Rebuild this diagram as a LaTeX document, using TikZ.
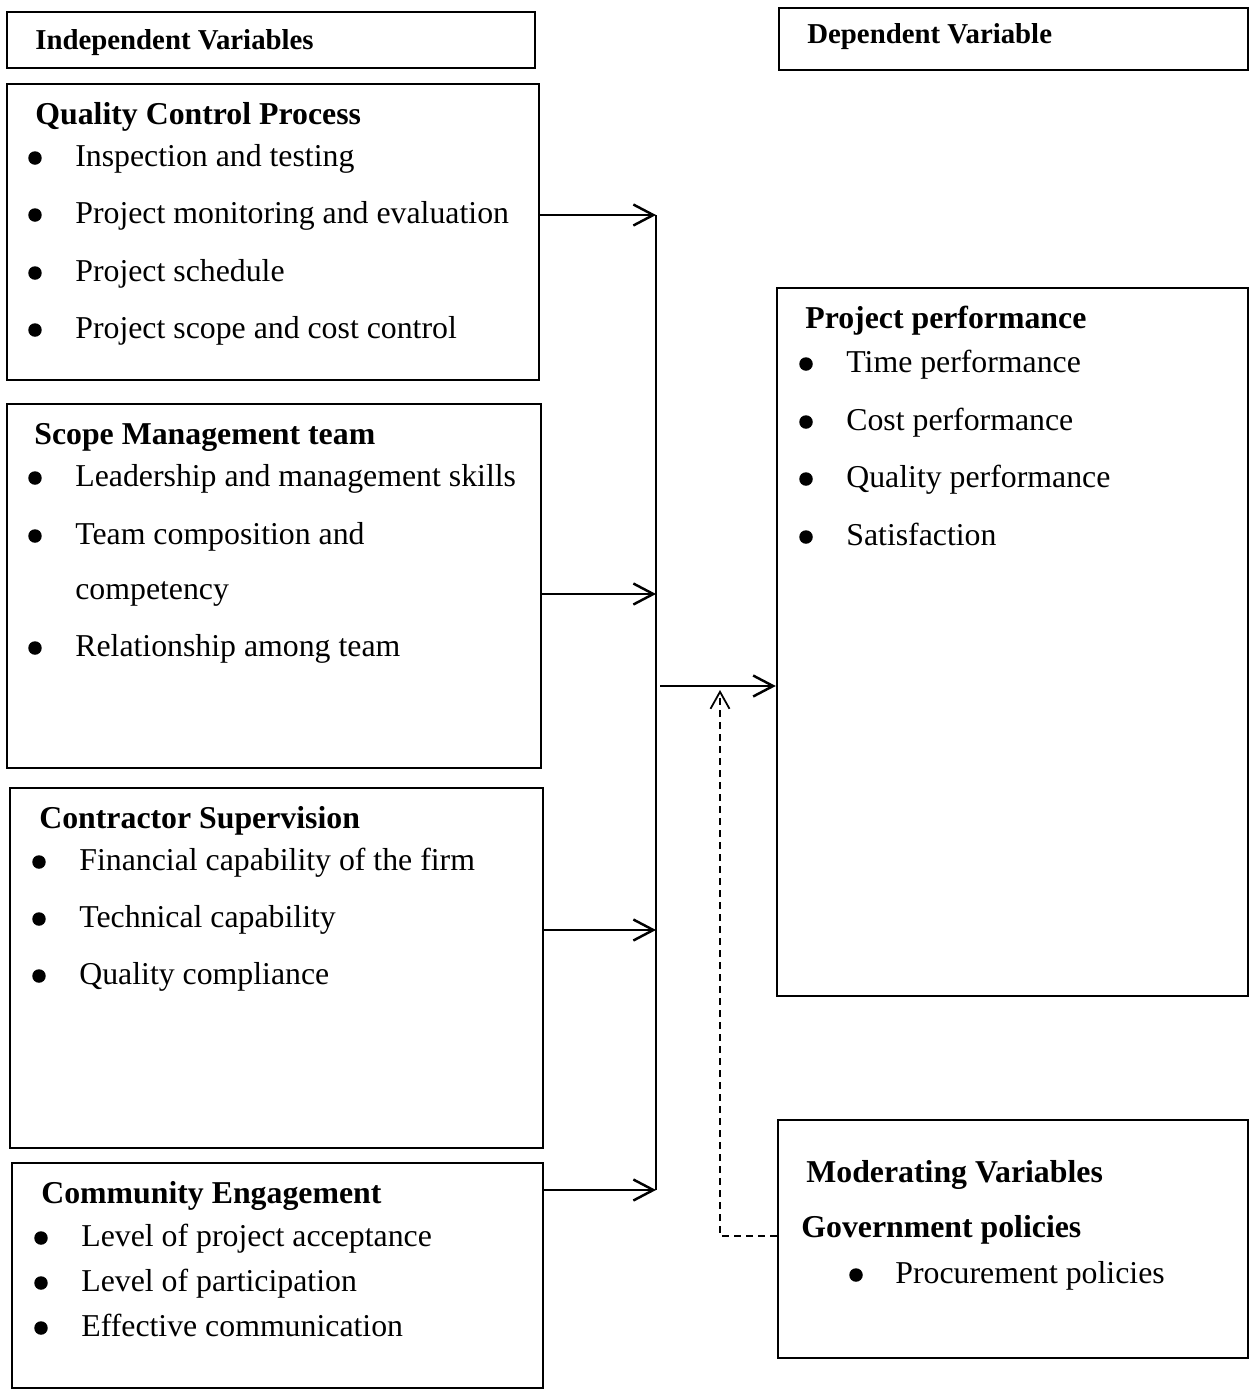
\documentclass[tikz,border=0pt]{standalone}
\usepackage{fontspec}
\setmainfont{Liberation Serif}
\usetikzlibrary{arrows.meta,fit}
\begin{document}
\begin{tikzpicture}[x=0.02cm,y=-0.02cm,
 box/.style={draw,line width=1.4pt,inner sep=0pt,rectangle},
 txt/.style={anchor=base west,inner sep=0pt,font=\fontsize{18.1}{22}\selectfont},
 ttl/.style={anchor=base west,inner sep=0pt,font=\fontsize{18.1}{22}\selectfont\bfseries},
 hdr/.style={anchor=base west,inner sep=0pt,font=\fontsize{16.4}{20}\selectfont\bfseries},
 bul/.style={circle,fill,inner sep=0pt,minimum size=0.27cm},
 arr/.style={line width=1.4pt,-{Straight Barb[length=0.4cm,width=0.42cm]}},
 dasharr/.style={line width=1pt,dash pattern=on 0.14cm off 0.1cm,-{Straight Barb[length=0.34cm,width=0.38cm]}}]
\useasboundingbox (0,0) rectangle (1250,1390);

% header boxes
\node[box,fit={(7,12)(535,68)}] (indep) {};
\node[hdr] (indept) at (35,49) {Independent Variables};
\node[box,fit={(779,8)(1248,70)}] (dep) {};
\node[hdr] (dept) at (807,43) {Dependent Variable};

% Quality Control Process
\node[box,fit={(7,84)(539,380)}] (qcp) {};
\node[ttl] (qcpt) at (35,124) {Quality Control Process};
\node[bul] (qb1) at (35,158) {}; \node[txt] (q1) at (75,166) {Inspection and testing};
\node[bul] (qb2) at (35,215) {}; \node[txt] (q2) at (75,223) {Project monitoring and evaluation};
\node[bul] (qb3) at (35,273) {}; \node[txt] (q3) at (75,281) {Project schedule};
\node[bul] (qb4) at (35,330) {}; \node[txt] (q4) at (75,338) {Project scope and cost control};

% Scope Management team
\node[box,fit={(7,404)(541,768)}] (smt) {};
\node[ttl] (smtt) at (34,444) {Scope Management team};
\node[bul] (sb1) at (35,478) {}; \node[txt] (s1) at (75,486) {Leadership and management skills};
\node[bul] (sb2) at (35,536) {}; \node[txt] (s2) at (75,544) {Team composition and};
\node[txt] (s2b) at (75,599) {competency};
\node[bul] (sb3) at (35,648) {}; \node[txt] (s3) at (75,656) {Relationship among team};

% Contractor Supervision
\node[box,fit={(10,788)(543,1148)}] (cs) {};
\node[ttl] (cst) at (39,828) {Contractor Supervision};
\node[bul] (cb1) at (39,862) {}; \node[txt] (c1) at (79,870) {Financial capability of the firm};
\node[bul] (cb2) at (39,919) {}; \node[txt] (c2) at (79,927) {Technical capability};
\node[bul] (cb3) at (39,976) {}; \node[txt] (c3) at (79,984) {Quality compliance};

% Community Engagement
\node[box,fit={(12,1163)(543,1388)}] (ce) {};
\node[ttl] (cet) at (41,1203) {Community Engagement};
\node[bul] (eb1) at (41,1238) {}; \node[txt] (e1) at (81,1246) {Level of project acceptance};
\node[bul] (eb2) at (41,1283) {}; \node[txt] (e2) at (81,1291) {Level of participation};
\node[bul] (eb3) at (41,1328) {}; \node[txt] (e3) at (81,1336) {Effective communication};

% Project performance
\node[box,fit={(777,288)(1248,996)}] (pp) {};
\node[ttl] (ppt) at (805,328) {Project performance};
\node[bul] (pb1) at (806,364) {}; \node[txt] (p1) at (846,372) {Time performance};
\node[bul] (pb2) at (806,422) {}; \node[txt] (p2) at (846,430) {Cost performance};
\node[bul] (pb3) at (806,479) {}; \node[txt] (p3) at (846,487) {Quality performance};
\node[bul] (pb4) at (806,537) {}; \node[txt] (p4) at (846,545) {Satisfaction};

% Moderating Variables
\node[box,fit={(778,1120)(1248,1358)}] (mod) {};
\node[ttl] (modt) at (806,1182) {Moderating Variables};
\node[ttl] (gov) at (801,1237) {Government policies};
\node[bul] (mb1) at (856,1275) {}; \node[txt] (m1) at (895,1283) {Procurement policies};

% connectors
\coordinate (j1) at (656,215);
\coordinate (j2) at (656,594);
\coordinate (j3) at (656,930);
\coordinate (j4) at (656,1190);
\coordinate (mj) at (660,686);
\coordinate (d1) at (720,1236);
\coordinate (d2) at (720,690);
\draw[line width=1.4pt] (j1) -- (j4);
\draw[arr] (qcp.east |- j1) -- (j1);
\draw[arr] (smt.east |- j2) -- (j2);
\draw[arr] (cs.east |- j3) -- (j3);
\draw[arr] (ce.east |- j4) -- (j4);
\draw[arr] (mj) -- (pp.west |- mj);
\draw[dasharr] (mod.west |- d1) -- (d1) -- (d2);
\end{tikzpicture}
\end{document}
